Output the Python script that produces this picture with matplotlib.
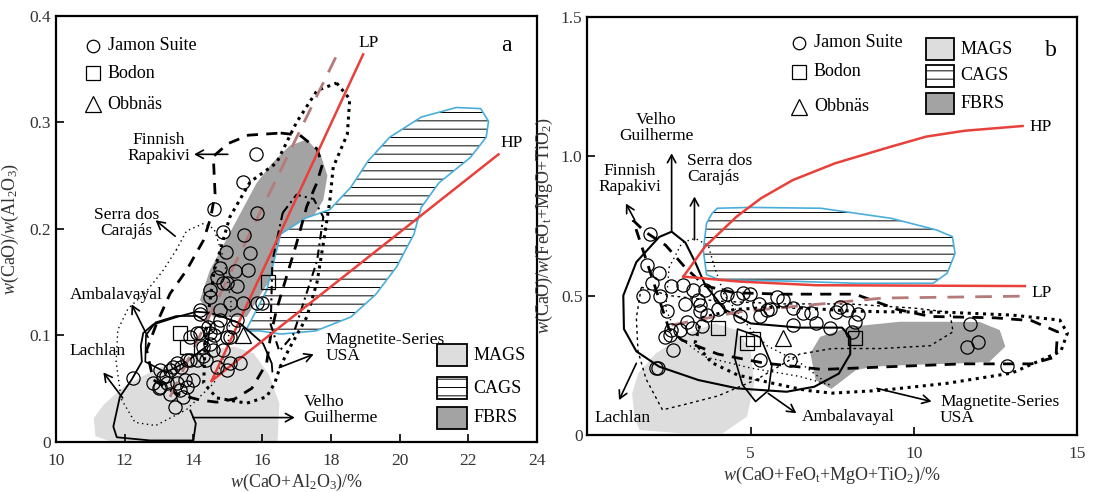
import matplotlib
matplotlib.use("Agg")
import matplotlib.pyplot as plt
from matplotlib.patches import Polygon, Rectangle

plt.rcParams['font.family'] = ['Liberation Serif', 'DejaVu Serif']
plt.rcParams['mathtext.fontset'] = 'custom'
plt.rcParams['mathtext.rm'] = 'Liberation Serif'
plt.rcParams['mathtext.it'] = 'Liberation Serif:italic'
plt.rcParams['hatch.linewidth'] = 0.7

RED = "#e8413b"
BROWN = "#b57b7b"
BLUE = "#4aaedb"
MAGS_C = "#dddddd"
FBRS_C = "#a3a3a3"

# ---------------- panel a data ----------------
a_jamon_x = [15.82, 15.43, 14.61, 14.85, 15.86, 15.48, 14.95, 15.65, 14.77, 15.21, 15.6,
             14.48, 14.87, 15.26, 15.06, 15.45, 14.19, 14.77, 15.99, 15.26, 14.68, 14.19,
             13.9, 15.06, 14.48, 14.87, 14.29, 13.9, 13.41, 13.03, 15.06, 13.22, 12.83,
             13.61, 12.25, 13.46, 14.0, 14.42, 13.64, 14.97, 13.2, 13.75, 14.6, 13.0,
             14.19, 14.77, 14.48, 14.97, 14.1, 14.29, 14.58, 14.1, 13.8, 13.51, 13.32,
             13.12, 13.03, 13.51, 13.8, 13.7, 13.32, 14.38, 14.68, 15.36, 15.16, 15.84,
             14.48, 14.68, 14.97]
a_jamon_y = [0.270, 0.244, 0.219, 0.197, 0.215, 0.194, 0.178, 0.177, 0.163, 0.160, 0.161,
             0.136, 0.149, 0.146, 0.130, 0.130, 0.124, 0.124, 0.130, 0.114, 0.108, 0.102,
             0.0985, 0.0985, 0.092, 0.086, 0.080, 0.0766, 0.0703, 0.067, 0.0735, 0.0547, 0.0547,
             0.0484, 0.0594, 0.0327, 0.0578, 0.108, 0.0703, 0.067, 0.062, 0.058, 0.100, 0.050,
             0.120, 0.114, 0.102, 0.0985, 0.102, 0.089, 0.086, 0.0766, 0.0766, 0.0735, 0.067,
             0.061, 0.0515, 0.0547, 0.0515, 0.042, 0.045, 0.0766, 0.070, 0.0735, 0.108, 0.130,
             0.142, 0.155, 0.149]
a_bodon_x = [13.61, 13.8, 16.18]
a_bodon_y = [0.102, 0.089, 0.150]
a_obb_x = [15.45]
a_obb_y = [0.100]

a_lp = ([14.53, 18.94], [0.057, 0.364])
a_hp = ([14.53, 22.88], [0.057, 0.270])
a_lp_dash = ([13.32, 18.23], [0.042, 0.367])

a_mags = [(11.15, 0.005), (11.1, 0.022), (11.4, 0.035), (12.0, 0.052), (12.9, 0.068), (13.9, 0.080),
          (14.6, 0.087), (15.2, 0.089), (15.75, 0.083), (16.2, 0.063), (16.5, 0.036), (16.45, 0.0),
          (11.6, 0.0)]
a_fbrs = [(15.55, 0.117), (14.58, 0.117), (14.19, 0.133), (14.48, 0.161), (15.16, 0.202),
          (15.84, 0.243), (16.3, 0.262), (16.8, 0.278), (17.3, 0.284), (17.7, 0.27), (17.9, 0.25),
          (17.78, 0.227), (17.2, 0.196), (16.62, 0.171), (16.03, 0.142)]
a_cags = [(15.52, 0.104), (16.13, 0.142), (16.54, 0.195), (17.26, 0.21), (17.97, 0.218),
          (18.58, 0.239), (19.09, 0.264), (19.71, 0.286), (20.63, 0.305), (21.65, 0.314),
          (22.36, 0.313), (22.59, 0.301), (22.52, 0.286), (22.06, 0.267), (21.14, 0.243),
          (20.63, 0.22), (20.42, 0.195), (19.91, 0.164), (19.3, 0.138), (18.58, 0.117),
          (17.56, 0.104), (16.54, 0.101), (15.93, 0.104)]
a_dashed = [(16.54, 0.29), (17.1, 0.288), (17.6, 0.275), (17.75, 0.26), (17.59, 0.243), (17.3, 0.221),
            (17.0, 0.186), (16.71, 0.155), (16.42, 0.124), (16.25, 0.1), (16.13, 0.0735), (15.7, 0.05),
            (15.2, 0.04), (14.68, 0.037), (14.19, 0.039), (13.5, 0.045), (12.83, 0.058), (12.64, 0.086),
            (12.93, 0.111), (13.32, 0.139), (13.8, 0.161), (14.29, 0.189), (14.5, 0.21), (14.63, 0.233),
            (14.58, 0.268), (15.0, 0.28), (15.6, 0.288)]
a_dotted = [(18.17, 0.337), (18.55, 0.322), (18.48, 0.289), (18.07, 0.258), (17.97, 0.226),
            (17.8, 0.19), (17.6, 0.15), (17.3, 0.117), (16.8, 0.088), (16.52, 0.07), (16.37, 0.055),
            (16.13, 0.042), (15.55, 0.036), (14.68, 0.041), (14.3, 0.055), (14.35, 0.1), (14.6, 0.16),
            (15.06, 0.211), (15.65, 0.244), (16.42, 0.262), (17.0, 0.3), (17.6, 0.33)]
a_dashdot = [(16.6, 0.215), (17.0, 0.232), (17.5, 0.228), (17.78, 0.211), (17.6, 0.17), (17.2, 0.13),
             (16.9, 0.1), (16.5, 0.085), (16.25, 0.11), (16.3, 0.17)]
a_serra = [(13.5, 0.18), (13.8, 0.198), (14.3, 0.205), (14.6, 0.2), (14.9, 0.17), (15.1, 0.13),
           (15.0, 0.09), (14.6, 0.055), (13.8, 0.03), (12.9, 0.015), (12.3, 0.018), (11.9, 0.04),
           (11.75, 0.075), (11.8, 0.105), (12.1, 0.125), (12.6, 0.14), (13.1, 0.16)]
a_solid = [(16.3, 0.065), (16.28, 0.0735), (16.03, 0.092), (15.36, 0.111), (14.87, 0.117),
           (14.48, 0.121), (14.09, 0.122), (13.51, 0.117), (12.83, 0.11), (12.54, 0.102),
           (12.47, 0.09), (12.5, 0.075), (12.2, 0.058), (11.86, 0.042), (11.67, 0.014),
           (11.77, 0.004), (12.74, 0.001), (14.0, 0.001), (14.07, 0.017), (13.9, 0.03)]
a_amb = [(12.6, 0.075), (12.62, 0.1), (12.9, 0.112), (13.5, 0.118), (14.1, 0.118), (14.5, 0.11),
         (14.4, 0.09), (13.8, 0.075), (13.2, 0.065)]

# ---------------- panel b data ----------------
b_jamon_x = [1.92, 1.82, 2.2, 2.55, 1.7, 2.22, 1.97, 2.45, 2.53, 2.63, 2.15, 3.25, 3.6, 3.4, 3.45,
             3.2, 3.5, 2.55, 4.27, 4.57, 4.67, 4.98, 5.25, 5.8, 6.3, 6.85, 6.3, 5.3, 7.43, 7.95,
             8.2, 8.1, 5.3, 6.2, 11.72, 11.62, 11.97, 12.84, 4.0, 3.0, 5.6, 7.0, 7.6, 2.1,
             2.94, 3.45, 3.65, 2.84, 3.04, 2.38, 4.06, 4.77, 5.49, 6.0, 6.61, 7.74, 8.3]
b_jamon_y = [0.72, 0.61, 0.58, 0.535, 0.50, 0.50, 0.545, 0.445, 0.36, 0.305, 0.24, 0.52, 0.52, 0.485,
             0.445, 0.385, 0.39, 0.375, 0.505, 0.49, 0.425, 0.505, 0.47, 0.495, 0.455, 0.436, 0.395,
             0.425, 0.383, 0.448, 0.405, 0.37, 0.27, 0.27, 0.398, 0.317, 0.335, 0.247, 0.45, 0.47,
             0.45, 0.40, 0.44, 0.24,
             0.538, 0.466, 0.43, 0.376, 0.406, 0.352, 0.496, 0.508, 0.448, 0.484, 0.436, 0.46, 0.435]
b_bodon_x = [4.01, 4.88, 5.08, 8.2]
b_bodon_y = [0.383, 0.329, 0.345, 0.347]
b_obb_x = [6.0]
b_obb_y = [0.347]

b_hp = ([2.94, 3.6, 4.57, 5.32, 6.29, 7.58, 9.3, 10.38, 11.56, 13.33],
        [0.568, 0.675, 0.783, 0.849, 0.914, 0.974, 1.034, 1.07, 1.091, 1.108])
b_lp = ([2.94, 4.67, 7.0, 13.4], [0.568, 0.55, 0.537, 0.534])
b_lp_dash = ([2.58, 4.67, 9.05, 13.45], [0.394, 0.442, 0.491, 0.498])

b_mags = [(1.37, 0.149), (1.45, 0.06), (1.6, 0.018), (2.85, 0.006), (4.14, 0.006), (4.89, 0.066),
          (5.11, 0.185), (5.0, 0.305), (4.57, 0.376), (3.92, 0.40), (3.06, 0.365), (2.1, 0.293),
          (1.56, 0.221)]
b_fbrs = [(6.83, 0.293), (6.99, 0.197), (7.47, 0.165), (8.23, 0.233), (8.76, 0.245), (9.84, 0.251),
          (11.45, 0.257), (12.31, 0.262), (12.8, 0.317), (12.63, 0.376), (12.02, 0.405), (10.91, 0.406),
          (9.57, 0.406), (8.05, 0.388), (7.13, 0.352)]
b_cags = [(3.98, 0.813), (5.0, 0.816), (7.15, 0.813), (9.3, 0.777), (10.7, 0.735), (11.18, 0.711),
          (11.26, 0.651), (11.02, 0.58), (10.59, 0.544), (8.23, 0.544), (6.08, 0.552), (4.06, 0.556),
          (3.65, 0.575), (3.55, 0.663), (3.65, 0.759), (3.82, 0.795)]
b_solid = [(2.58, 0.729), (2.2, 0.71), (1.5, 0.62), (1.1, 0.5), (1.12, 0.38), (1.5, 0.3), (2.2, 0.245),
           (3.4, 0.197), (4.6, 0.167), (6.1, 0.155), (6.95, 0.173), (7.7, 0.22), (8.05, 0.29),
           (8.05, 0.35), (7.8, 0.385), (6.5, 0.385), (5.0, 0.40), (4.2, 0.45), (3.6, 0.54),
           (3.3, 0.62), (3.0, 0.69)]
b_amb = [(4.6, 0.38), (5.3, 0.35), (5.65, 0.25), (5.55, 0.16), (5.15, 0.12), (4.75, 0.18), (4.5, 0.28)]
b_dashed = [(1.4, 0.77), (1.75, 0.73), (2.4, 0.68), (3.0, 0.6), (3.6, 0.535), (4.5, 0.51), (6.0, 0.505),
            (8.2, 0.505), (9.5, 0.45), (10.5, 0.425), (12.5, 0.42), (13.6, 0.41), (14.4, 0.37),
            (14.35, 0.28), (13.6, 0.255), (11.5, 0.255), (9.3, 0.245), (7.2, 0.235), (5.4, 0.258),
            (4.0, 0.29), (2.9, 0.34), (2.5, 0.38)]
b_dotted = [(3.5, 0.42), (4.5, 0.45), (6.0, 0.46), (8.0, 0.445), (9.0, 0.442), (11.0, 0.44),
            (13.0, 0.43), (14.47, 0.412), (14.7, 0.365), (14.5, 0.3), (13.0, 0.222), (11.0, 0.185),
            (9.0, 0.16), (7.5, 0.15), (6.7, 0.16), (5.5, 0.19), (4.6, 0.215), (3.8, 0.26), (3.3, 0.33)]
b_lachlan = [(1.65, 0.53), (2.5, 0.5), (4.0, 0.48), (6.0, 0.47), (8.0, 0.47), (10.0, 0.455),
             (11.1, 0.44), (11.2, 0.37), (10.5, 0.32), (9.0, 0.31), (7.5, 0.31), (6.5, 0.29),
             (5.2, 0.20), (4.0, 0.14), (3.0, 0.11), (2.3, 0.09), (1.8, 0.2), (1.55, 0.3), (1.5, 0.42)]
b_serra = [(2.5, 0.60), (2.9, 0.69), (3.3, 0.705), (3.7, 0.68), (3.9, 0.60), (4.2, 0.50), (5.0, 0.38),
           (5.5, 0.32), (6.5, 0.26), (7.4, 0.18), (6.5, 0.21), (5.0, 0.24), (3.6, 0.28), (2.8, 0.35),
           (2.4, 0.45)]


def outline(ax, pts, ls, lw, color="black", closed=True):
    ax.add_patch(Polygon(pts, closed=closed, fill=False, edgecolor=color, linestyle=ls,
                         linewidth=lw, joinstyle="round", capstyle="butt"))


def fill(ax, pts, color):
    ax.add_patch(Polygon(pts, closed=True, facecolor=color, edgecolor="none"))


def hatched(ax, pts):
    ax.add_patch(Polygon(pts, closed=True, facecolor="white", edgecolor="black",
                         hatch="--", linewidth=0))
    ax.add_patch(Polygon(pts, closed=True, fill=False, edgecolor=BLUE, linewidth=1.2))


def arrow(ax, start, end):
    ax.annotate("", xy=end, xytext=start,
                arrowprops=dict(arrowstyle="->,head_length=0.55,head_width=0.3",
                                color="black", lw=1.2, shrinkA=0, shrinkB=0))


def legend_boxes(ax, x0, x1, ys, h, tx):
    names = ["MAGS", "CAGS", "FBRS"]
    for name, y in zip(names, ys):
        if name == "MAGS":
            ax.add_patch(Rectangle((x0, y), x1 - x0, h, facecolor=MAGS_C, edgecolor="black", lw=1.3))
        elif name == "CAGS":
            ax.add_patch(Rectangle((x0, y), x1 - x0, h, facecolor="white", edgecolor="black",
                                   hatch="--", lw=1.3))
        else:
            ax.add_patch(Rectangle((x0, y), x1 - x0, h, facecolor=FBRS_C, edgecolor="black", lw=1.3))
        ax.text(tx, y + h / 2, name, fontsize=13, va="center", ha="left")


def style(ax):
    for s in ax.spines.values():
        s.set_linewidth(1.6)
    ax.tick_params(direction="in", length=6, width=1.2, labelsize=12.5, top=False, right=False,
                   labelcolor="#333333")
    ax.tick_params(axis="x", pad=8)


mk = dict(linestyle="none", mfc="none", mec="black", mew=0.9)

fig = plt.figure(figsize=(10.93, 4.92), dpi=100)
ax1 = fig.add_axes([0.0512, 0.1026, 0.4401, 0.8648])
ax2 = fig.add_axes([0.5374, 0.1159, 0.4481, 0.8502])

# ---------------- panel a ----------------
ax = ax1
fill(ax, a_mags, MAGS_C)
fill(ax, a_fbrs, FBRS_C)
hatched(ax, a_cags)
outline(ax, a_serra, (0, (1, 2.5)), 1.0)
outline(ax, a_dotted, (0, (1, 1.5)), 2.2)
outline(ax, a_dashdot, (0, (4, 2, 1, 2)), 1.5)
outline(ax, a_dashed, (0, (4, 3)), 2.0)
outline(ax, a_solid, "-", 1.3, closed=False)
outline(ax, a_amb, "-", 1.2)
ax.plot(*a_lp_dash, color=BROWN, lw=2.0, dashes=(6, 4))
ax.plot(*a_lp, color=RED, lw=1.8)
ax.plot(*a_hp, color=RED, lw=1.8)
ax.plot(a_jamon_x, a_jamon_y, marker="o", ms=9.5, **mk)
ax.plot(a_bodon_x, a_bodon_y, marker="s", ms=10, **mk)
ax.plot(a_obb_x, a_obb_y, marker="^", ms=11, **mk)

ax.text(18.8, 0.375, "LP", fontsize=12.5, ha="left", va="center")
ax.text(22.95, 0.281, "HP", fontsize=12.5, ha="left", va="center")
ax.text(23.1, 0.372, "a", fontsize=17, ha="center", va="center")

ax.plot([11.07], [0.372], marker="o", ms=9, **mk)
ax.plot([11.07], [0.346], marker="s", ms=10, **mk)
ax.plot([11.07], [0.317], marker="^", ms=11, **mk)
ax.text(11.5, 0.372, "Jamon Suite", fontsize=13, va="center")
ax.text(11.5, 0.346, "Bodon", fontsize=13, va="center")
ax.text(11.5, 0.317, "Obbnäs", fontsize=13, va="center")

legend_boxes(ax, 21.1, 21.95, [0.071, 0.040, 0.012], 0.0205, 22.15)

ax.text(13.0, 0.276, "Finnish\nRapakivi", fontsize=12.5, ha="center", va="center", linespacing=1.0)
arrow(ax, (15.0, 0.27), (14.02, 0.27))
ax.text(12.05, 0.205, "Serra dos\nCarajás", fontsize=12.5, ha="center", va="center", linespacing=1.0)
arrow(ax, (13.47, 0.193), (12.9, 0.208))
ax.text(11.75, 0.138, "Ambalavayal", fontsize=12.5, ha="center", va="center")
arrow(ax, (12.68, 0.098), (12.2, 0.129))
ax.text(11.2, 0.085, "Lachlan", fontsize=12.5, ha="center", va="center")
arrow(ax, (11.94, 0.041), (11.38, 0.065))
ax.text(17.85, 0.088, "Magnetite-Series\nUSA", fontsize=12.5, ha="left", va="center", linespacing=1.0)
arrow(ax, (16.5, 0.0695), (17.5, 0.082))
ax.text(17.2, 0.030, "Velho\nGuilherme", fontsize=12.5, ha="left", va="center", linespacing=1.0)
arrow(ax, (13.99, 0.0225), (16.95, 0.0225))

ax.set_xlim(10, 24)
ax.set_ylim(0, 0.4)
ax.set_xticks([10, 12, 14, 16, 18, 20, 22, 24])
ax.set_yticks([0, 0.1, 0.2, 0.3, 0.4])
ax.set_yticklabels(["0", "0.1", "0.2", "0.3", "0.4"])
ax.set_xlabel(r"$w$(CaO+Al$_2$O$_3$)/%", fontsize=13, labelpad=2, color="#333333")
ax.set_ylabel(r"$w$(CaO)/$w$(Al$_2$O$_3$)", fontsize=13, labelpad=6, color="#333333")
style(ax)

# ---------------- panel b ----------------
ax = ax2
fill(ax, b_mags, MAGS_C)
fill(ax, b_fbrs, FBRS_C)
hatched(ax, b_cags)
outline(ax, b_serra, (0, (1, 2.5)), 1.0)
outline(ax, b_lachlan, (0, (2, 2.5)), 1.0)
outline(ax, b_dotted, (0, (1, 1.5)), 2.2)
outline(ax, b_dashed, (0, (4, 3)), 2.0)
outline(ax, b_solid, "-", 1.5)
outline(ax, b_amb, "-", 1.2)
ax.plot(*b_lp_dash, color=BROWN, lw=2.0, dashes=(6, 4))
ax.plot(*b_hp, color=RED, lw=1.8)
ax.plot(*b_lp, color=RED, lw=1.8)
ax.plot(b_jamon_x, b_jamon_y, marker="o", ms=9.5, **mk)
ax.plot(b_bodon_x, b_bodon_y, marker="s", ms=10, **mk)
ax.plot(b_obb_x, b_obb_y, marker="^", ms=11, **mk)

ax.text(13.55, 1.105, "HP", fontsize=12.5, ha="left", va="center")
ax.text(13.6, 0.51, "LP", fontsize=12.5, ha="left", va="center")
ax.text(14.2, 1.38, "b", fontsize=17, ha="center", va="center")

ax.plot([6.48], [1.407], marker="o", ms=9, **mk)
ax.plot([6.48], [1.303], marker="s", ms=10, **mk)
ax.plot([6.48], [1.177], marker="^", ms=11, **mk)
ax.text(6.94, 1.407, "Jamon Suite", fontsize=13, va="center")
ax.text(6.94, 1.303, "Bodon", fontsize=13, va="center")
ax.text(6.94, 1.177, "Obbnäs", fontsize=13, va="center")

legend_boxes(ax, 10.38, 11.24, [1.345, 1.249, 1.15], 0.077, 11.42)

ax.text(2.1, 1.10, "Velho\nGuilherme", fontsize=12.5, ha="center", va="center", linespacing=1.0)
arrow(ax, (2.58, 0.729), (2.58, 1.01))
ax.text(3.06, 0.953, "Serra dos\nCarajás", fontsize=12.5, ha="left", va="center", linespacing=1.0)
arrow(ax, (3.28, 0.70), (3.28, 0.855))
ax.text(1.29, 0.917, "Finnish\nRapakivi", fontsize=12.5, ha="center", va="center", linespacing=1.0)
arrow(ax, (1.45, 0.771), (1.18, 0.83))
ax.text(1.08, 0.06, "Lachlan", fontsize=12.5, ha="center", va="center")
arrow(ax, (1.5, 0.257), (0.97, 0.125))
ax.text(6.56, 0.066, "Ambalavayal", fontsize=12.5, ha="left", va="center")
arrow(ax, (5.54, 0.149), (6.4, 0.078))
ax.text(10.8, 0.09, "Magnetite-Series\nUSA", fontsize=12.5, ha="left", va="center", linespacing=1.0)
arrow(ax, (8.87, 0.167), (10.54, 0.12))

ax.set_xlim(0, 15)
ax.set_ylim(0, 1.5)
ax.set_xticks([5, 10, 15])
ax.set_yticks([0, 0.5, 1.0, 1.5])
ax.set_yticklabels(["0", "0.5", "1.0", "1.5"])
ax.set_xlabel(r"$w$(CaO+FeO$_{\rm t}$+MgO+TiO$_2$)/%", fontsize=13, labelpad=2, color="#333333")
ax.set_ylabel(r"$w$(CaO)/$w$(FeO$_{\rm t}$+MgO+TiO$_2$)", fontsize=13, labelpad=4, color="#333333")
style(ax)

fig.savefig("out.png", dpi=100)
